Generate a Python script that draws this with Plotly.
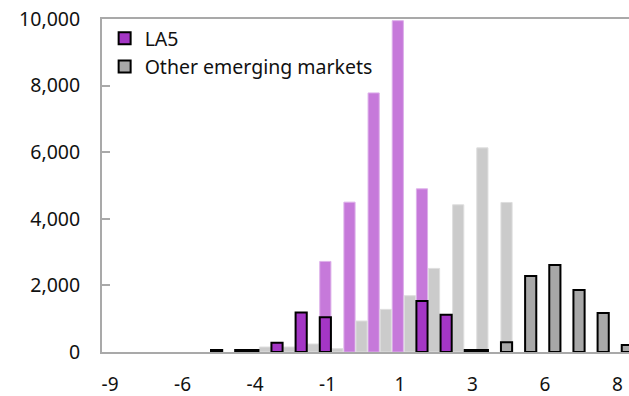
import plotly.graph_objects as go

# Histogram bin centres (category values on the x axis)
bins = [-8.6, -7.8, -7.0, -6.2, -5.4, -4.6, -3.8, -3.0, -2.2, -1.4, -0.6,
        0.2, 1.0, 1.8, 2.6, 3.4, 4.2, 5.0, 5.8, 6.6, 7.4, 8.2]
x_tick_labels = ["-9", "-6", "-4", "-1", "1", "3", "6", "8"]

# Foreground series (outlined bars, shown in the legend); None = empty bin
la5 = [None, None, None, None, None, None, 60, 280, 1185, 1045, None,
       None, None, 1530, 1120, 60, None, None, None, None, None, None]
other_em = [None, None, None, None, 60, 60, None, None, None, None, None,
            None, None, None, None, 60, 290, 2280, 2610, 1860, 1170, 210]

# Background series (pale bars behind)
la5_bg = [None, None, None, None, None, None, None, None, None, 2720, 4500,
          7780, 9950, 4900, None, None, None, None, None, None, None, None]
other_em_bg = [None, None, None, None, None, None, 150, 150, 240, 100, 930,
               1280, 1690, 2510, 4420, 6130, 4490, None, None, None, None, None]

FONT = "Noto Sans"
AXIS_GREY = "#A9A9A9"

fig = go.Figure()

# pale background bars
fig.add_trace(go.Bar(
    x=bins, y=la5_bg, offset=-0.39, width=0.37,
    marker=dict(color="#C679DA", line=dict(color="#DDB0EA", width=1)),
    showlegend=False, hoverinfo="skip"))
fig.add_trace(go.Bar(
    x=bins, y=other_em_bg, offset=0.01, width=0.37,
    marker=dict(color="#CBCBCB", line=dict(color="#DEDEDE", width=1)),
    showlegend=False, hoverinfo="skip"))

# outlined foreground bars
fig.add_trace(go.Bar(
    x=bins, y=la5, name="LA5", offset=-0.39, width=0.37,
    marker=dict(color="#A436C5", line=dict(color="#000000", width=2))))
fig.add_trace(go.Bar(
    x=bins, y=other_em, name="Other emerging markets", offset=0.01, width=0.37,
    marker=dict(color="#A8A8A8", line=dict(color="#000000", width=2))))

fig.update_layout(
    width=629, height=396,
    barmode="overlay",
    plot_bgcolor="white", paper_bgcolor="white",
    margin=dict(l=102, r=0, t=19, b=44),
    font=dict(family=FONT, size=19.5, color="#111111"),
    legend=dict(x=0.005, y=1.0, xanchor="left", yanchor="top",
                bgcolor="rgba(0,0,0,0)", font=dict(size=19.5),
                tracegroupgap=0, itemsizing="constant"),
    showlegend=True,
)

fig.update_xaxes(
    range=[-9.0, 8.45], automargin=False,
    tickvals=bins[::3], ticktext=x_tick_labels,
    tickfont=dict(size=19),
    ticks="", showgrid=False, zeroline=False,
    showline=True, linecolor=AXIS_GREY, linewidth=2, mirror=True,
    ticklabelstandoff=14, ticklabelshift=-4,
)
fig.update_yaxes(
    range=[0, 10000], automargin=False,
    tickvals=[0, 2000, 4000, 6000, 8000, 10000],
    tickformat=",", ticks="inside", ticklen=8, tickwidth=2, tickcolor=AXIS_GREY,
    showgrid=False, zeroline=False,
    showline=True, linecolor=AXIS_GREY, linewidth=2,
    ticklabelstandoff=16,
)

fig.write_html("out.html")
